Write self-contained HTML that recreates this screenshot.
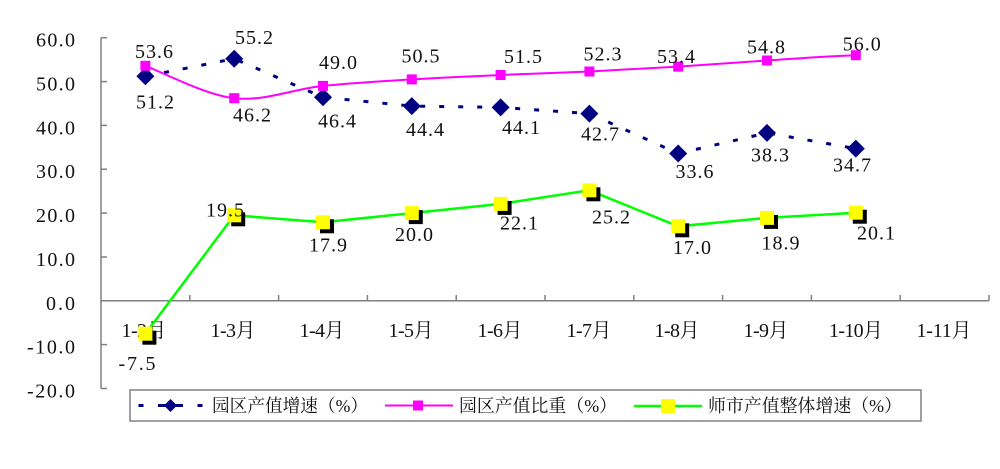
<!DOCTYPE html>
<html><head><meta charset="utf-8"><style>
html,body{margin:0;padding:0;background:#fff;}
svg{display:block;}
text{font-family:"Liberation Serif","Noto Serif CJK SC",serif;fill:#111;}
</style></head><body>
<svg width="1000" height="469" viewBox="0 0 1000 469" xmlns="http://www.w3.org/2000/svg">
<rect width="1000" height="469" fill="#fff"/>
<!-- axes -->
<g stroke="#808080" stroke-width="1.5" fill="none">
<line x1="101" y1="37.7" x2="101" y2="388.5"/>
<line x1="101" y1="37.7" x2="107" y2="37.7"/>
<line x1="101" y1="81.6" x2="107" y2="81.6"/>
<line x1="101" y1="125.4" x2="107" y2="125.4"/>
<line x1="101" y1="169.2" x2="107" y2="169.2"/>
<line x1="101" y1="213.1" x2="107" y2="213.1"/>
<line x1="101" y1="257" x2="107" y2="257"/>
<line x1="101" y1="344.6" x2="107" y2="344.6"/>
<line x1="101" y1="388.5" x2="107" y2="388.5"/>
<line x1="101" y1="300.8" x2="989" y2="300.8"/>
<line x1="189.8" y1="295" x2="189.8" y2="300.8"/>
<line x1="278.6" y1="295" x2="278.6" y2="300.8"/>
<line x1="367.4" y1="295" x2="367.4" y2="300.8"/>
<line x1="456.2" y1="295" x2="456.2" y2="300.8"/>
<line x1="545" y1="295" x2="545" y2="300.8"/>
<line x1="633.8" y1="295" x2="633.8" y2="300.8"/>
<line x1="722.6" y1="295" x2="722.6" y2="300.8"/>
<line x1="811.4" y1="295" x2="811.4" y2="300.8"/>
<line x1="900.2" y1="295" x2="900.2" y2="300.8"/>
<line x1="989" y1="295" x2="989" y2="300.8"/>
</g>
<!-- y tick labels -->
<g font-size="20" text-anchor="end">
<text x="75" y="46.5" textLength="39" lengthAdjust="spacing">60.0</text>
<text x="75" y="90.5" textLength="39" lengthAdjust="spacing">50.0</text>
<text x="75" y="134.5" textLength="39" lengthAdjust="spacing">40.0</text>
<text x="75" y="178" textLength="39" lengthAdjust="spacing">30.0</text>
<text x="75" y="222" textLength="39" lengthAdjust="spacing">20.0</text>
<text x="75" y="266" textLength="39" lengthAdjust="spacing">10.0</text>
<text x="75" y="310" textLength="29" lengthAdjust="spacing">0.0</text>
<text x="75" y="353.5" textLength="48" lengthAdjust="spacing">-10.0</text>
<text x="75" y="397.5" textLength="48" lengthAdjust="spacing">-20.0</text>
</g>
<!-- x category labels -->
<g font-size="20" text-anchor="middle">
<text x="144" y="337" textLength="45" lengthAdjust="spacing">1-2月</text>
<text x="233" y="337" textLength="45" lengthAdjust="spacing">1-3月</text>
<text x="322" y="337" textLength="45" lengthAdjust="spacing">1-4月</text>
<text x="411" y="337" textLength="45" lengthAdjust="spacing">1-5月</text>
<text x="500" y="337" textLength="45" lengthAdjust="spacing">1-6月</text>
<text x="589" y="337" textLength="45" lengthAdjust="spacing">1-7月</text>
<text x="677" y="337" textLength="45" lengthAdjust="spacing">1-8月</text>
<text x="766" y="337" textLength="45" lengthAdjust="spacing">1-9月</text>
<text x="856" y="337" textLength="54" lengthAdjust="spacing">1-10月</text>
<text x="944" y="337" textLength="55" lengthAdjust="spacing">1-11月</text>
</g>
<!-- navy dashed series -->
<polyline fill="none" stroke="#000080" stroke-width="3" stroke-dasharray="5 14"
 points="145.4,76.3 234.2,58.7 323,97.3 411.8,106.1 500.6,107.4 589.4,113.6 678.2,153.5 767,132.9 855.8,148.6"/>
<g fill="#000080">
<polygon points="145.4,67.3 154.4,76.3 145.4,85.3 136.4,76.3"/>
<polygon points="234.2,49.7 243.2,58.7 234.2,67.7 225.2,58.7"/>
<polygon points="323,88.3 332,97.3 323,106.3 314,97.3"/>
<polygon points="411.8,97.1 420.8,106.1 411.8,115.1 402.8,106.1"/>
<polygon points="500.6,98.4 509.6,107.4 500.6,116.4 491.6,107.4"/>
<polygon points="589.4,104.6 598.4,113.6 589.4,122.6 580.4,113.6"/>
<polygon points="678.2,144.5 687.2,153.5 678.2,162.5 669.2,153.5"/>
<polygon points="767,123.9 776,132.9 767,141.9 758,132.9"/>
<polygon points="855.8,139.6 864.8,148.6 855.8,157.6 846.8,148.6"/>
</g>
<!-- pink smoothed series -->
<path fill="none" stroke="#ff00ff" stroke-width="2"
 d="M145.4,65.76 C160.2,71.17 204.6,94.85 234.2,98.21 C263.8,101.57 293.4,89.07 323,85.93 C352.6,82.79 382.2,81.19 411.8,79.36 C441.4,77.53 471,76.29 500.6,74.97 C530.2,73.65 559.8,72.85 589.4,71.46 C619,70.07 648.6,68.47 678.2,66.64 C707.8,64.81 737.4,62.4 767,60.5 C796.6,58.6 826.2,56.12 855.8,55.24"/>
<g fill="#ff00ff">
<rect x="140.4" y="60.8" width="10" height="10"/>
<rect x="229.2" y="93.2" width="10" height="10"/>
<rect x="318" y="80.9" width="10" height="10"/>
<rect x="406.8" y="74.4" width="10" height="10"/>
<rect x="495.6" y="70" width="10" height="10"/>
<rect x="584.4" y="66.5" width="10" height="10"/>
<rect x="673.2" y="61.6" width="10" height="10"/>
<rect x="762" y="55.5" width="10" height="10"/>
<rect x="850.8" y="50.2" width="10" height="10"/>
</g>
<!-- green series -->
<polyline fill="none" stroke="#00ff00" stroke-width="2.5"
 points="145.4,333.7 234.2,215.3 323,222.3 411.8,213.1 500.6,203.9 589.4,190.3 678.2,226.3 767,217.9 855.8,212.7"/>
<g fill="#000">
<rect x="142.4" y="330.7" width="14" height="14"/>
<rect x="231.2" y="212.3" width="14" height="14"/>
<rect x="320" y="219.3" width="14" height="14"/>
<rect x="408.8" y="210.1" width="14" height="14"/>
<rect x="497.6" y="200.9" width="14" height="14"/>
<rect x="586.4" y="187.3" width="14" height="14"/>
<rect x="675.2" y="223.3" width="14" height="14"/>
<rect x="764" y="214.9" width="14" height="14"/>
<rect x="852.8" y="209.7" width="14" height="14"/>
</g>
<g fill="#ffff00">
<rect x="138.4" y="326.7" width="14" height="14"/>
<rect x="227.2" y="208.3" width="14" height="14"/>
<rect x="316" y="215.3" width="14" height="14"/>
<rect x="404.8" y="206.1" width="14" height="14"/>
<rect x="493.6" y="196.9" width="14" height="14"/>
<rect x="582.4" y="183.3" width="14" height="14"/>
<rect x="671.2" y="219.3" width="14" height="14"/>
<rect x="760" y="210.9" width="14" height="14"/>
<rect x="848.8" y="205.7" width="14" height="14"/>
</g>
<!-- data labels -->
<g font-size="20" text-anchor="middle">
<text x="154" y="58" textLength="38" lengthAdjust="spacing">53.6</text>
<text x="252" y="121.5" textLength="38" lengthAdjust="spacing">46.2</text>
<text x="338" y="69" textLength="38" lengthAdjust="spacing">49.0</text>
<text x="420.5" y="62.5" textLength="38" lengthAdjust="spacing">50.5</text>
<text x="523" y="63" textLength="38" lengthAdjust="spacing">51.5</text>
<text x="602.5" y="60.5" textLength="38" lengthAdjust="spacing">52.3</text>
<text x="676" y="63" textLength="38" lengthAdjust="spacing">53.4</text>
<text x="766" y="53.5" textLength="38" lengthAdjust="spacing">54.8</text>
<text x="861.7" y="50.5" textLength="38" lengthAdjust="spacing">56.0</text>

<text x="155" y="108.5" textLength="38" lengthAdjust="spacing">51.2</text>
<text x="254" y="44" textLength="38" lengthAdjust="spacing">55.2</text>
<text x="337" y="127.3" textLength="38" lengthAdjust="spacing">46.4</text>
<text x="425" y="136" textLength="38" lengthAdjust="spacing">44.4</text>
<text x="521" y="134" textLength="38" lengthAdjust="spacing">44.1</text>
<text x="600" y="140.5" textLength="38" lengthAdjust="spacing">42.7</text>
<text x="694.5" y="178" textLength="38" lengthAdjust="spacing">33.6</text>
<text x="770" y="161.5" textLength="38" lengthAdjust="spacing">38.3</text>
<text x="852" y="171.5" textLength="38" lengthAdjust="spacing">34.7</text>

<text x="137" y="370" textLength="37" lengthAdjust="spacing">-7.5</text>
<text x="225" y="216.5" textLength="38" lengthAdjust="spacing">19.5</text>
<text x="328" y="251.5" textLength="38" lengthAdjust="spacing">17.9</text>
<text x="414" y="241" textLength="38" lengthAdjust="spacing">20.0</text>
<text x="519" y="229.3" textLength="38" lengthAdjust="spacing">22.1</text>
<text x="611" y="223.3" textLength="38" lengthAdjust="spacing">25.2</text>
<text x="692" y="254" textLength="38" lengthAdjust="spacing">17.0</text>
<text x="780.5" y="249.3" textLength="38" lengthAdjust="spacing">18.9</text>
<text x="876" y="239.3" textLength="38" lengthAdjust="spacing">20.1</text>
</g>
<!-- legend -->
<rect x="130" y="390" width="791" height="31" fill="#fff" stroke="#808080" stroke-width="1.5"/>
<g fill="#000080">
<rect x="138.5" y="404" width="5" height="3"/>
<rect x="158" y="404" width="25" height="3"/>
<polygon points="170.5,399 177,405.5 170.5,412 164,405.5"/>
<rect x="197.5" y="404" width="5" height="3"/>
</g>
<line x1="385" y1="405.5" x2="453" y2="405.5" stroke="#ff00ff" stroke-width="2"/>
<rect x="413" y="400.5" width="10" height="10" fill="#ff00ff"/>
<line x1="634" y1="406" x2="702" y2="406" stroke="#00ff00" stroke-width="2.5"/>
<rect x="661" y="399" width="14" height="14" fill="#ffff00"/>
<g font-size="18">
<text x="212" y="412" textLength="156" lengthAdjust="spacingAndGlyphs">园区产值增速（%）</text>
<text x="459" y="412" textLength="158" lengthAdjust="spacingAndGlyphs">园区产值比重（%）</text>
<text x="708" y="412" textLength="194" lengthAdjust="spacingAndGlyphs">师市产值整体增速（%）</text>
</g>
</svg>
</body></html>
